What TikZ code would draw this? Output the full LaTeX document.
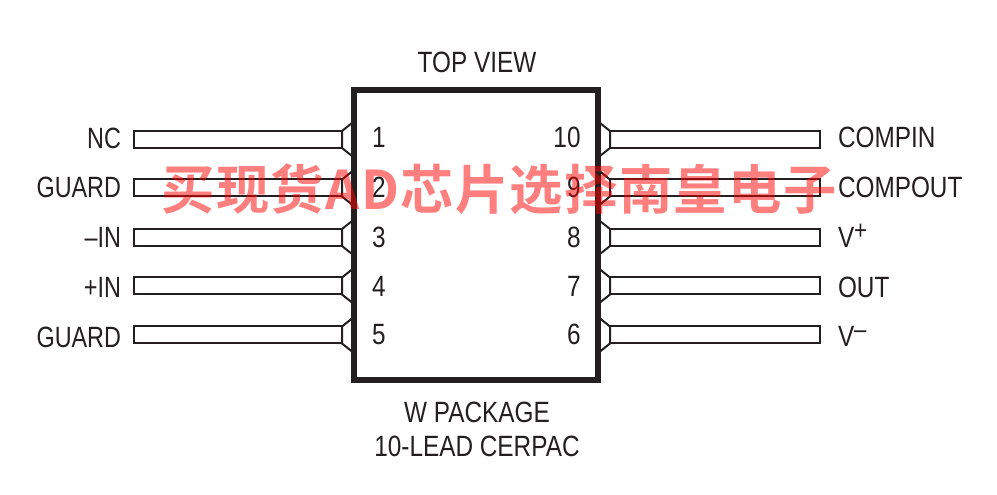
\documentclass[tikz,border=0pt]{standalone}
\usepackage{fontspec}
\setmainfont[FakeStretch=0.83]{Liberation Sans}
\newfontfamily\wmfont[LetterSpace=2.5]{Noto Sans CJK SC Bold}
\definecolor{ink}{HTML}{231F20}
\tikzset{
  x=0.75pt,y=-0.75pt,
  label text/.style={font=\fontsize{22pt}{24pt}\selectfont,text=ink,inner sep=0pt,outer sep=0pt},
  left label/.style={label text,xscale=0.96},
  pinwire/.style={draw=ink,line width=1.5pt,line join=miter},
  chip/.style={draw=ink,line width=4.6pt,line join=miter},
  wm/.style={font=\wmfont\fontsize{40pt}{44pt}\selectfont,text=red,text opacity=.5,inner sep=0pt}
}
\begin{document}
\begin{tikzpicture}
\useasboundingbox (0,0) rectangle (997,495);
\foreach \n/\y in {a/139.5,b/188,c/237.5,d/286,e/335}{
  \draw[pinwire] (342,\y-8.5) -- (134,\y-8.5) -- (134,\y+8.5) -- (342,\y+8.5);
  \draw[pinwire] (352,\y-16.5) -- (342,\y-8.5) -- (342,\y+8.5) -- (352,\y+16.5);
}
\foreach \n/\y in {a/139.5,b/188,c/237.5,d/286,e/335}{
  \draw[pinwire] (610,\y-8.5) -- (820,\y-8.5) -- (820,\y+8.5) -- (610,\y+8.5);
  \draw[pinwire] (600,\y-16.5) -- (610,\y-8.5) -- (610,\y+8.5) -- (600,\y+16.5);
}
\draw[chip] (354,90) rectangle (598,380);
\node[label text,anchor=base] (top) at (477,73) {TOP VIEW};
\node[label text,anchor=base] (pk1) at (477,423) {W PACKAGE};
\node[label text,anchor=base] (pk2) at (477,457) {10-LEAD CERPAC};
\node[left label,anchor=base east] (l1) at (121,149) {NC};
\node[left label,anchor=base east] (l2) at (121,198) {GUARD};
\node[left label,anchor=base east] (l3) at (121,248) {–IN};
\node[left label,anchor=base east] (l4) at (121,298) {+IN};
\node[left label,anchor=base east] (l5) at (121,348) {GUARD};
\node[label text,anchor=base west] (r1) at (838,148) {COMPIN};
\node[label text,anchor=base west] (r2) at (838,198) {COMPOUT};
\node[label text,anchor=base west] (r3) at (838,248) {V\raisebox{6.5pt}{\fontsize{20pt}{20pt}\selectfont +}};
\node[label text,anchor=base west] (r4) at (838,298) {OUT};
\node[label text,anchor=base west] (r5) at (838,347) {V\raisebox{6.5pt}{\fontsize{20pt}{20pt}\selectfont –}};
\node[label text,anchor=base] (n1) at (379,148) {1};
\node[label text,anchor=base] (n2) at (379,198) {2};
\node[label text,anchor=base] (n3) at (379,248) {3};
\node[label text,anchor=base] (n4) at (379,297) {4};
\node[label text,anchor=base] (n5) at (379,345) {5};
\node[label text,anchor=base] (n10) at (567,148) {10};
\node[label text,anchor=base] (n9) at (574,198) {9};
\node[label text,anchor=base] (n8) at (574,248) {8};
\node[label text,anchor=base] (n7) at (574,297) {7};
\node[label text,anchor=base] (n6) at (574,345) {6};
\node[wm,anchor=base] (wm) at (499,210) {买现货AD芯片选择南皇电子};
\end{tikzpicture}
\end{document}
